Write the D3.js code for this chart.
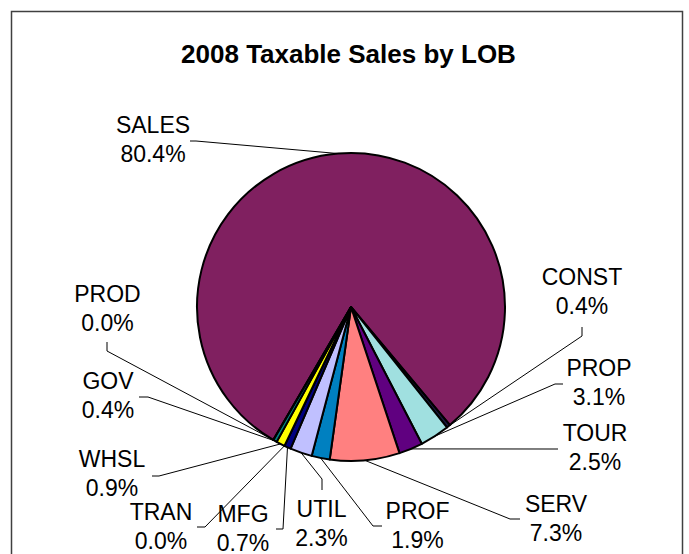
<!DOCTYPE html>
<html>
<head>
<meta charset="utf-8">
<script src="https://cdn.jsdelivr.net/npm/d3@7"></script>
<style>
  html, body { margin: 0; padding: 0; background: #fff; }
  svg { display: block; }
  text { font-family: "Liberation Sans", Arial, sans-serif; fill: #000; }
</style>
</head>
<body>
<svg id="chart" width="689" height="554"></svg>
<script>
// ---- data ----
const categories = ["SALES", "CONST", "PROP", "TOUR", "SERV", "PROF", "UTIL", "MFG", "TRAN", "WHSL", "GOV", "PROD"];
const shares     = [80.4, 0.4, 3.1, 2.5, 7.3, 1.9, 2.3, 0.7, 0.0, 0.9, 0.4, 0.0];
const colors     = ["#802060", "#1a1a40", "#a0e0e0", "#600080", "#ff8080", "#0080c0", "#c0c0ff", "#000080", "#ffffff", "#ffff00", "#008080", "#ffffff"];
const title = "2008 Taxable Sales by LOB";

// ---- layout (label placement, not data) ----
const labelLayout = {
  SALES: { x: 153,   y: 133, leader: [[190, 141], [196, 141]] },
  CONST: { x: 582,   y: 285, leader: [[582, 327], [582, 336]] },
  PROP:  { x: 599,   y: 376, leader: [[563, 384], [555, 384]] },
  TOUR:  { x: 595,   y: 441, leader: [[558, 449], [549, 449]] },
  SERV:  { x: 556,   y: 512, leader: [[520, 519], [510, 519]] },
  PROF:  { x: 417.5, y: 519, leader: [[382, 526], [373, 526]] },
  UTIL:  { x: 321.5, y: 517, leader: [[322, 490], [322, 479]] },
  MFG:   { x: 243,   y: 522, leader: [[276, 529], [283, 529]] },
  TRAN:  { x: 161,   y: 520, leader: [[197, 527], [205, 527]] },
  WHSL:  { x: 112,   y: 467, leader: [[152, 476], [159, 476]] },
  GOV:   { x: 108,   y: 389, leader: [[139, 397], [148, 397]] },
  PROD:  { x: 107.5, y: 302, leader: [[107, 342], [107, 351]] }
};

const svg = d3.select("#chart");
const W = 689, H = 554;
const cx = 351, cy = 307, R = 154;

// frame
svg.append("rect")
  .attr("x", 11.5).attr("y", 11.5)
  .attr("width", 671).attr("height", 600)
  .attr("fill", "#fff").attr("stroke", "#404040").attr("stroke-width", 1.5);

// title
svg.append("text")
  .attr("x", 348.5).attr("y", 63)
  .attr("text-anchor", "middle")
  .style("font-weight", "bold").style("font-size", "26px")
  .text(title);

const data = categories.map((c, i) => ({ name: c, value: shares[i], color: colors[i] }));

const startDeg = -149.7;
const pie = d3.pie().sort(null).value(d => d.value)
  .startAngle(startDeg * Math.PI / 180)
  .endAngle((startDeg + 360) * Math.PI / 180);
const arcs = pie(data);
const arc = d3.arc().innerRadius(0).outerRadius(R);

const g = svg.append("g").attr("transform", `translate(${cx},${cy})`);
g.selectAll("path.slice").data(arcs).enter().append("path")
  .attr("class", "slice")
  .attr("d", arc)
  .attr("fill", d => d.data.color)
  .attr("stroke", "#000").attr("stroke-width", 2)
  .attr("stroke-linejoin", "round");

// leader lines
const line = d3.line();
arcs.forEach(a => {
  const L = labelLayout[a.data.name];
  const mid = (a.startAngle + a.endAngle) / 2;
  const px = cx + R * Math.sin(mid), py = cy - R * Math.cos(mid);
  const pts = L.leader.concat([[px, py]]);
  svg.append("path")
    .attr("d", line(pts))
    .attr("fill", "none").attr("stroke", "#000").attr("stroke-width", 1);
});

// labels
arcs.forEach(a => {
  const L = labelLayout[a.data.name];
  const t = svg.append("text")
    .attr("text-anchor", "middle")
    .style("font-size", "23px");
  t.append("tspan").attr("x", L.x).attr("y", L.y).text(a.data.name);
  t.append("tspan").attr("x", L.x).attr("y", L.y + 29).text(a.data.value.toFixed(1) + "%");
});
</script>
</body>
</html>
